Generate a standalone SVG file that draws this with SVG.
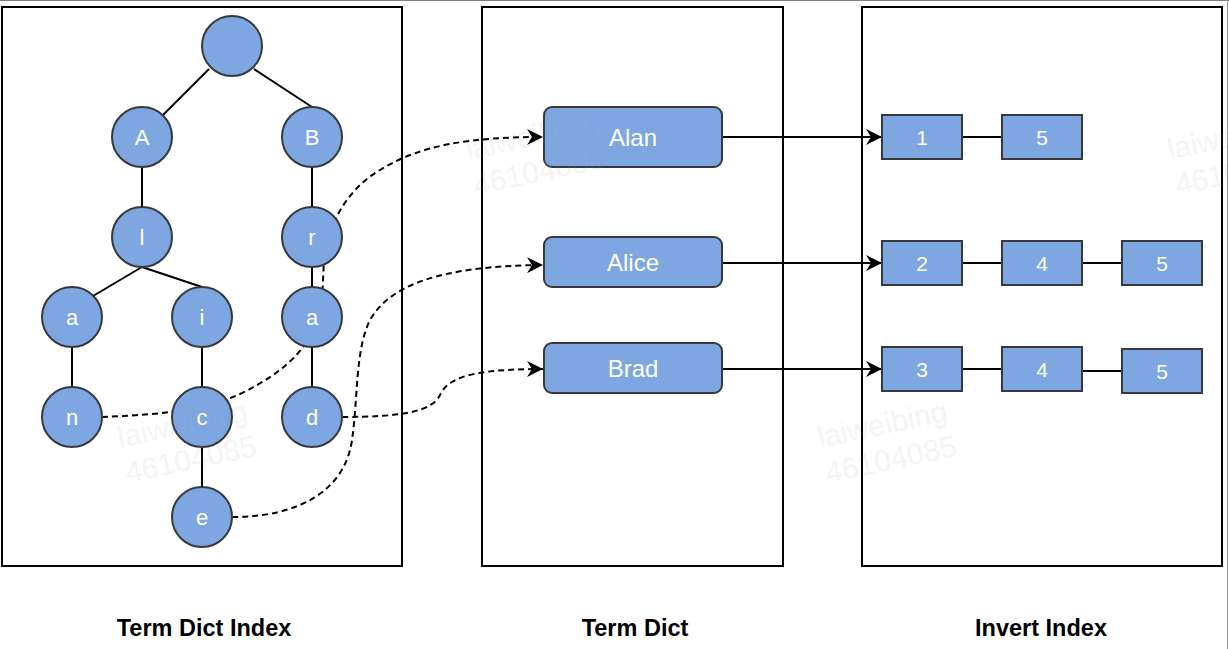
<svg xmlns="http://www.w3.org/2000/svg" width="1229" height="649" viewBox="0 0 1229 649">
<defs>
<style>
.panel{fill:#fff;stroke:#000;stroke-width:2}
.node circle,.node rect{fill:#7EA6E0;stroke:#36393d;stroke-width:2}
.lbl{font-family:"Liberation Sans",Arial,Helvetica,sans-serif;fill:#fff;text-anchor:middle}
.c{font-size:22px}
.t{font-size:24px}
.n{font-size:21px}
.edge{stroke:#000;stroke-width:2;fill:none}
.dash{stroke:#000;stroke-width:2;fill:none;stroke-dasharray:6 4}
.title{font-family:"Liberation Sans",Arial,Helvetica,sans-serif;font-weight:bold;font-size:23.5px;text-anchor:middle;fill:#000}
.wm{font-family:"Liberation Sans",Arial,Helvetica,sans-serif;font-size:30px;fill:#9a9a9a;opacity:.1}
</style>
<marker id="arr" viewBox="0 0 16 16" refX="16" refY="8" markerWidth="16" markerHeight="16" markerUnits="userSpaceOnUse" orient="auto">
<path d="M0,0 L16,8 L0,16 L5,8 Z" fill="#000"/>
</marker>
</defs>
<rect width="1229" height="649" fill="#fff"/>
<line x1="0" y1="0.5" x2="1229" y2="0.5" stroke="#808080" stroke-width="1"/>
<line x1="1227.5" y1="0" x2="1227.5" y2="649" stroke="#9a9a9a" stroke-width="1"/>

<g id="panels">
<rect id="panel-term-dict-index" class="panel" x="2" y="7" width="400" height="559"/>
<rect id="panel-term-dict" class="panel" x="482" y="7" width="301" height="559"/>
<rect id="panel-invert-index" class="panel" x="862" y="7" width="360" height="559"/>
</g>

<g id="connectors">
<line class="edge" x1="209" y1="69" x2="163" y2="115"/>
<line class="edge" x1="254" y1="69" x2="312" y2="107"/>
<line class="edge" x1="142" y1="167" x2="142" y2="207"/>
<line class="edge" x1="312" y1="167" x2="312" y2="207"/>
<line class="edge" x1="142" y1="267" x2="93" y2="296"/>
<line class="edge" x1="142" y1="267" x2="202" y2="287"/>
<line class="edge" x1="312" y1="267" x2="312" y2="287"/>
<line class="edge" x1="72" y1="347" x2="72" y2="387"/>
<line class="edge" x1="202" y1="347" x2="202" y2="387"/>
<line class="edge" x1="312" y1="347" x2="312" y2="387"/>
<line class="edge" x1="202" y1="447" x2="202" y2="487"/>
<path class="dash" d="M102,417 C150,415 200,412 240,394 C290,370 318,340 322,300 L324,260 C326,230 345,190 380,170 C420,145 470,137 543,137" marker-end="url(#arr)"/>
<path class="dash" d="M232,517 C300,517 345,490 352,440 C358,400 355,350 370,320 C390,285 440,266 543,265" marker-end="url(#arr)"/>
<path class="dash" d="M342,417 C400,417 432,412 440,395 C448,378 470,369 543,369" marker-end="url(#arr)"/>
<line class="edge" x1="722" y1="137" x2="882" y2="137" marker-end="url(#arr)"/>
<line class="edge" x1="722" y1="263" x2="882" y2="263" marker-end="url(#arr)"/>
<line class="edge" x1="722" y1="369" x2="882" y2="369" marker-end="url(#arr)"/>
<line class="edge" x1="962" y1="137" x2="1002" y2="137"/>
<line class="edge" x1="962" y1="263" x2="1002" y2="263"/>
<line class="edge" x1="1082" y1="263" x2="1122" y2="263"/>
<line class="edge" x1="962" y1="369" x2="1002" y2="369"/>
<line class="edge" x1="1082" y1="371" x2="1122" y2="371"/>
</g>

<g id="node-root" class="node"><circle cx="232" cy="46" r="30"/></g>
<g id="node-A" class="node"><circle cx="142" cy="137" r="30"/><text class="lbl c" x="142" y="145">A</text></g>
<g id="node-B" class="node"><circle cx="312" cy="137" r="30"/><text class="lbl c" x="312" y="145">B</text></g>
<g id="node-l" class="node"><circle cx="142" cy="237" r="30"/><text class="lbl c" x="142" y="245">l</text></g>
<g id="node-r" class="node"><circle cx="312" cy="237" r="30"/><text class="lbl c" x="312" y="245">r</text></g>
<g id="node-a1" class="node"><circle cx="72" cy="317" r="30"/><text class="lbl c" x="72" y="325">a</text></g>
<g id="node-i" class="node"><circle cx="202" cy="317" r="30"/><text class="lbl c" x="202" y="325">i</text></g>
<g id="node-a2" class="node"><circle cx="312" cy="317" r="30"/><text class="lbl c" x="312" y="325">a</text></g>
<g id="node-n" class="node"><circle cx="72" cy="417" r="30"/><text class="lbl c" x="72" y="425">n</text></g>
<g id="node-c" class="node"><circle cx="202" cy="417" r="30"/><text class="lbl c" x="202" y="425">c</text></g>
<g id="node-d" class="node"><circle cx="312" cy="417" r="30"/><text class="lbl c" x="312" y="425">d</text></g>
<g id="node-e" class="node"><circle cx="202" cy="517" r="30"/><text class="lbl c" x="202" y="525">e</text></g>

<g id="term-alan" class="node"><rect x="544" y="107" width="178" height="60" rx="8"/><text class="lbl t" x="633" y="145.5">Alan</text></g>
<g id="term-alice" class="node"><rect x="544" y="237" width="178" height="50" rx="8"/><text class="lbl t" x="633" y="270.5">Alice</text></g>
<g id="term-brad" class="node"><rect x="544" y="343" width="178" height="50" rx="8"/><text class="lbl t" x="633" y="376.5">Brad</text></g>

<g id="inv-1-1" class="node"><rect x="882" y="115" width="80" height="44"/><text class="lbl n" x="922" y="144.5">1</text></g>
<g id="inv-1-5" class="node"><rect x="1002" y="115" width="80" height="44"/><text class="lbl n" x="1042" y="144.5">5</text></g>
<g id="inv-2-2" class="node"><rect x="882" y="241" width="80" height="44"/><text class="lbl n" x="922" y="270.5">2</text></g>
<g id="inv-2-4" class="node"><rect x="1002" y="241" width="80" height="44"/><text class="lbl n" x="1042" y="270.5">4</text></g>
<g id="inv-2-5" class="node"><rect x="1122" y="241" width="80" height="44"/><text class="lbl n" x="1162" y="270.5">5</text></g>
<g id="inv-3-3" class="node"><rect x="882" y="347" width="80" height="44"/><text class="lbl n" x="922" y="376.5">3</text></g>
<g id="inv-3-4" class="node"><rect x="1002" y="347" width="80" height="44"/><text class="lbl n" x="1042" y="376.5">4</text></g>
<g id="inv-3-5" class="node"><rect x="1122" y="349" width="80" height="44"/><text class="lbl n" x="1162" y="378.5">5</text></g>

<g id="titles">
<text class="title" x="204" y="636">Term Dict Index</text>
<text class="title" x="635" y="636">Term Dict</text>
<text class="title" x="1041" y="636">Invert Index</text>
</g>

<g id="watermarks">
<g transform="translate(468,160) rotate(-12)"><text class="wm" x="0" y="0">laiweibing</text><text class="wm" x="0" y="36">46104085</text></g>
<g transform="translate(120,448) rotate(-12)"><text class="wm" x="0" y="0">laiweibing</text><text class="wm" x="0" y="36">46104085</text></g>
<g transform="translate(820,448) rotate(-12)"><text class="wm" x="0" y="0">laiweibing</text><text class="wm" x="0" y="36">46104085</text></g>
<g transform="translate(1170,160) rotate(-12)"><text class="wm" x="0" y="0">laiweibing</text><text class="wm" x="0" y="36">46104085</text></g>
</g>
</svg>
